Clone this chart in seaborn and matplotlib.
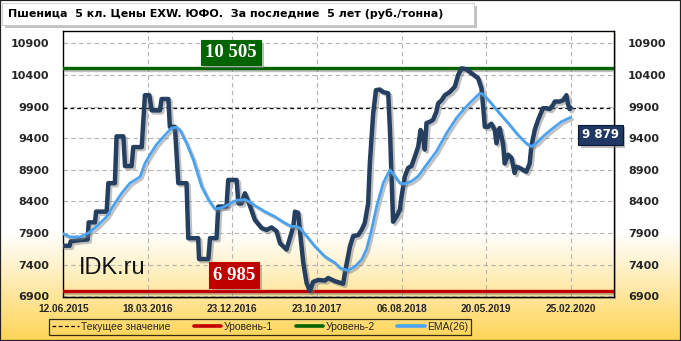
import numpy as np
import pandas as pd
import matplotlib
matplotlib.use("Agg")
import matplotlib.pyplot as plt
import matplotlib.patheffects as pe
from matplotlib.lines import Line2D
from matplotlib.patches import Rectangle
import seaborn as sns

# ---------------- data ----------------
title = "Пшеница  5 кл. Цены EXW. ЮФО.  За последние  5 лет (руб./тонна)"
tick_labels = ["12.06.2015", "18.03.2016", "23.12.2016", "23.10.2017",
               "06.08.2018", "20.05.2019", "25.02.2020"]
tick_weeks = [0, 40, 80, 120, 160, 200, 240]

week = [0,3,3.5,8,11.5,12,15,15.5,20.5,21.3,24.4,25.2,28.4,29.2,32.3,33.1,37.1,38.6,40.7,41.8,
        45.7,46.5,49.7,50.4,52.8,54.4,58.3,59.1,63.8,64.2,68.6,69.4,72.5,73.3,77.2,78,82,82.8,84.3,85.9,
        88.3,90.6,93.8,96.2,98.5,100.9,102.5,105.6,107.2,108.8,109.6,111.1,111.9,113.5,115.1,116.6,118.2,
        120.6,123.7,125.3,128.5,132.4,133.2,135.6,137.1,139.5,141.1,142.6,144.2,145,146.6,147.9,149.7,
        151.3,153.7,154.5,156,157.6,159.2,160,161.6,163.1,164.7,166.3,167.9,169,170.2,171,171.8,173.4,
        174.9,176.5,177.3,178.9,180.5,182.8,185.2,186.8,188.4,190.7,193,196.2,197.8,198.6,199.4,200.9,
        202.5,204.1,204.9,205.7,206.4,208,208.8,210.4,212,213.5,214.3,215.9,217.5,219,220.6,221.4,223,
        224.6,226.9,228.5,230.1,231.7,232.5,234.8,236.4,238,238.8,239.5,240]
price = [7700,7700,7770,7790,7800,8070,8070,8240,8240,8690,8690,9430,9430,8960,8960,9260,9260,10080,
         10080,9840,9840,10020,10020,9580,9580,8690,8690,7820,7820,7490,7490,7820,7820,8320,8320,8740,
         8740,8370,8370,8530,8330,8110,7980,7950,7990,7930,7740,7640,7820,8005,8240,8220,7950,7430,7110,
         6985,7130,7160,7150,7190,7140,7100,7270,7690,7850,7870,7950,8060,8370,9000,9800,10160,10170,
         10130,10110,9530,8080,8160,8270,8480,8800,8930,8960,9110,9270,9530,9420,9220,9640,9660,9690,
         9820,9950,10000,10080,10130,10215,10400,10505,10490,10430,10350,10190,9900,9580,9580,9630,9530,
         9320,9480,9560,9320,9000,9140,9090,8850,8950,8930,8900,8870,9000,9270,9530,9690,9875,9875,9860,
         9930,9980,9980,10000,10080,9930,9860,9879]

ema_week = [0,3.2,7.9,11.8,15.8,20.5,24.4,27.6,31.5,36.3,38.6,41,44.1,48.1,51.2,53.6,55.2,58.3,61.5,
            65.4,68.6,71.7,74.9,78,82,85.9,88.3,91.4,95.4,100.1,104.8,108,110.3,111.9,115.1,119,123.7,
            128.5,130.8,134.8,137.9,141.1,143.4,145.8,148.2,151.3,154.5,156.8,159.2,161.6,164.7,167.9,
            171.8,176.5,181.3,186,189.9,193,197,198.6,201.7,205.7,210.4,215.1,219,221.4,223.8,227.7,
            231.7,235.6,240]
ema = [7890,7840,7840,7900,8005,8160,8370,8530,8690,8790,9000,9140,9300,9450,9560,9575,9530,9320,9060,
       8640,8430,8280,8300,8350,8420,8430,8390,8320,8240,8160,8060,8005,8005,7980,7850,7690,7530,7430,
       7350,7310,7370,7480,7640,7950,8320,8690,8900,8800,8690,8680,8720,8800,8980,9190,9480,9720,9875,
       9980,10110,10095,9980,9820,9640,9450,9320,9270,9320,9450,9560,9660,9730]

current_value = 9879
level1 = 6985
level2 = 10505
y_ticks = [6900, 7400, 7900, 8400, 8900, 9400, 9900, 10400, 10900]
legend_labels = ["Текущее значение", "Уровень-1", "Уровень-2", "EMA(26)"]

assert len(week) == len(price)
assert len(ema_week) == len(ema)

df_price = pd.DataFrame({"week": week, "price": price})
df_ema = pd.DataFrame({"week": ema_week, "ema": ema})

# ---------------- style ----------------
sns.set_theme(style="white")
plt.rcParams["font.family"] = ["DejaVu Sans"]

W, H = 681, 341
fig = plt.figure(figsize=(W / 100, H / 100), dpi=100)

# background gradient (white -> yellow)
bg = fig.add_axes([0, 0, 1, 1], zorder=-10)
rows = np.arange(H)
t = np.clip((rows - 232) / (H - 232), 0, 1)[:, None]
white = np.array([1.0, 1.0, 1.0])
yellow = np.array([1.0, 0.83, 0.33])
grad = (white * (1 - t) + yellow * t)[:, None, :]
bg.imshow(grad, aspect="auto", extent=[0, 1, 0, 1], origin="upper")
bg.set_axis_off()

def fx(px):
    return px / W

def fy(py):
    return 1 - py / H

ax_l, ax_r, ax_t, ax_b = 63.3, 614, 31, 297
ax = fig.add_axes([fx(ax_l), fy(ax_b), fx(ax_r) - fx(ax_l), fy(ax_t) - fy(ax_b)])
ax.set_facecolor("none")

# plot-area shadow
fig.patches.append(Rectangle((fx(ax_l + 2), fy(ax_b + 2)), fx(ax_r) - fx(ax_l), fy(ax_t) - fy(ax_b),
                             transform=fig.transFigure, facecolor="#b8a070", edgecolor="none",
                             alpha=0.6, zorder=-5))
fig.patches.append(Rectangle((fx(ax_l), fy(ax_b)), fx(ax_r) - fx(ax_l), fy(ax_t) - fy(ax_b),
                             transform=fig.transFigure, facecolor="white", edgecolor="none",
                             alpha=1.0, zorder=-4))
ax_bg = fig.add_axes(ax.get_position(), zorder=-3)
py_rows = np.arange(int(ax_t), int(ax_b))
tt = np.clip((py_rows - 232) / (H - 232), 0, 1)[:, None]
g2 = (white * (1 - tt) + yellow * tt)[:, None, :]
ax_bg.imshow(g2, aspect="auto", extent=[0, 1, 0, 1], origin="upper")
ax_bg.set_axis_off()

ax.set_xlim(0, 260.5)
ax.set_ylim(6890, 11095)

# grid
for yv in y_ticks:
    ax.axhline(yv, color="#b4b4b4", lw=0.8, ls=(0, (4, 3)), zorder=1)
for xv in tick_weeks[1:]:
    ax.axvline(xv, color="#b4b4b4", lw=0.8, ls=(0, (4, 3)), zorder=1)

shadow = [pe.SimpleLineShadow(offset=(1.5, -1.5), shadow_color="#777777", alpha=0.45), pe.Normal()]

ax.axhline(level2, color="#006400", lw=2.4, zorder=3, path_effects=shadow)
ax.axhline(level1, color="#c00000", lw=2.4, zorder=3, path_effects=shadow)
ax.axhline(current_value, color="black", lw=0.9, ls=(0, (3, 2.5)), zorder=3)

sns.lineplot(data=df_price, x="week", y="price", ax=ax, color="#243f60", lw=3.2,
             sort=False, estimator=None, zorder=5, path_effects=shadow)
sns.lineplot(data=df_ema, x="week", y="ema", ax=ax, color="#4aa3f0", lw=2.0,
             sort=False, estimator=None, zorder=6, path_effects=shadow)

ax.set_xlabel("")
ax.set_ylabel("")
ax.set_xticks(tick_weeks)
ax.set_xticklabels(tick_labels, fontsize=7.3, fontweight="bold", family="Liberation Sans")
ax.set_yticks(y_ticks)
ax.set_yticklabels([str(v) for v in y_ticks], fontsize=8, fontweight="bold")
ax.tick_params(axis="y", which="both", length=0, left=False, right=False,
               labelleft=True, labelright=True, pad=10)
ax.tick_params(axis="x", length=0, pad=5)
for s in ax.spines.values():
    s.set_color("black")
    s.set_linewidth(1.0)
    s.set_visible(True)

# value boxes
def vbox(x, y, text, fc, family, size, ec, pad):
    tx = fig.text(fx(x), fy(y), text, ha="center", va="center", color="white",
                  fontsize=size, fontweight="bold", family=family,
                  bbox=dict(boxstyle=f"square,pad={pad}", fc=fc, ec=ec, lw=0.8), zorder=20)
    tx.get_bbox_patch().set_path_effects([pe.SimplePatchShadow(offset=(2, -2), shadow_rgbFace="#808080", alpha=0.5), pe.Normal()])
    return tx

vbox(231, 52.5, "10 505", "#006400", "Liberation Serif", 13.5, "#006400", 0.22)
vbox(234, 275, "6 985", "#c00000", "Liberation Serif", 13.5, "#c00000", 0.22)
vbox(600.5, 134.7, "9 879", "#1f3864", "DejaVu Sans", 8.5, "#0a1a33", 0.3)

fig.text(fx(79), fy(268), "IDK.ru", ha="left", va="center", fontsize=17,
         family="Liberation Sans", color="#111111")

# title box
fig.patches.append(Rectangle((fx(5), fy(28)), fx(472), fy(0) - fy(22),
                             transform=fig.transFigure, facecolor="#9a9a9a", edgecolor="none",
                             alpha=0.6, zorder=1))
fig.patches.append(Rectangle((fx(2), fy(25)), fx(472), fy(0) - fy(22),
                             transform=fig.transFigure, facecolor="white", edgecolor="#c8c8c8",
                             lw=0.6, zorder=2))
fig.text(fx(8), fy(14), title, ha="left", va="center", fontsize=8, fontweight="bold",
         color="black", zorder=3)

# legend
handles = [
    Line2D([], [], color="black", lw=0.9, ls=(0, (3, 2))),
    Line2D([], [], color="#c00000", lw=2.6),
    Line2D([], [], color="#006400", lw=2.6),
    Line2D([], [], color="#4aa3f0", lw=2.6),
]
leg = fig.legend(handles, legend_labels, loc="center", bbox_to_anchor=(fx(260), fy(327)),
                 ncol=4, frameon=True, fancybox=False, handlelength=2.6, handletextpad=0.25,
                 columnspacing=2.2, borderpad=0.25,
                 prop={"family": "Liberation Sans", "size": 7.5})
leg.get_frame().set_edgecolor("black")
leg.get_frame().set_facecolor("none")
leg.get_frame().set_linewidth(0.9)

# outer border
fig.patches.append(Rectangle((0, 0), 1, 1, transform=fig.transFigure, fill=False,
                             edgecolor="#222222", lw=1.6, zorder=30))

fig.savefig("out.png", dpi=100)
